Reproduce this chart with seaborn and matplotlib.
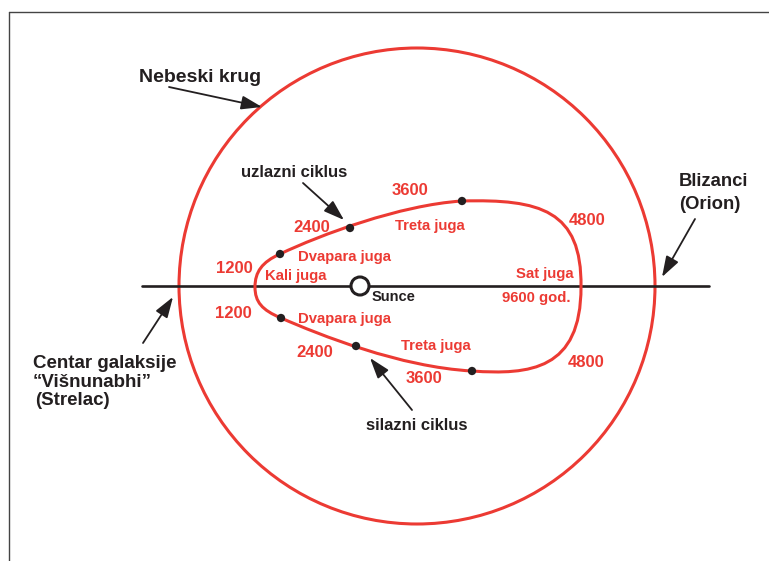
import numpy as np
import pandas as pd
import matplotlib
matplotlib.use("Agg")
import matplotlib.pyplot as plt
import seaborn as sns
from matplotlib.patches import Circle, PathPatch
from matplotlib.path import Path

# colours
RED = "#EC3A33"
BLACK = "#231F20"

# dots on the loop (year marks)
dot_x = [280, 350, 462, 281, 356, 472]
dot_y = [254, 228, 201, 318, 346, 371]

# red labels on the loop
red_labels = ["3600", "2400", "Treta juga", "Dvapara juga", "1200", "Kali juga",
              "1200", "Dvapara juga", "2400", "Treta juga", "3600",
              "4800", "4800", "Sat juga", "9600 god."]
red_x = [392, 293, 395, 298, 216, 265, 215, 298, 296, 401, 406, 569, 568, 516, 502]
red_y = [195, 232, 230, 261, 273, 280, 318, 323, 357, 350, 383, 225, 367, 278, 302]

# black labels
black_labels = ["Nebeski krug", "uzlazni ciklus", "silazni ciklus", "Sunce",
                "Blizanci", "(Orion)", "Centar galaksije", "\u201cVišnunabhi\u201d", "(Strelac)"]
black_x = [139, 241, 366, 372, 679, 679, 33, 33, 35]
black_y = [82, 177, 430, 301, 186, 209, 368, 387, 405]

# arrows: start -> tip
arrow_from = [(169, 87), (303, 183), (412, 410), (143, 343), (695, 219)]
arrow_to = [(262, 107), (344, 220), (370, 358), (173, 297), (662, 277)]

# horizon line ends
horizon_x = [142, 709]
horizon_y = [286, 286]

sns.set_theme(style="white")
plt.rcParams['font.family'] = ['Liberation Sans', 'DejaVu Sans']

fig = plt.figure(figsize=(7.69, 5.61), dpi=100)
ax = fig.add_axes([0, 0, 1, 1])
ax.set_xlim(0, 769)
ax.set_ylim(561, 0)
ax.axis("off")

# frame (top and left edges only visible)
ax.plot([9, 769], [12, 12], color="#444444", lw=1.0)
ax.plot([9, 9], [12, 561], color="#444444", lw=1.0)

# celestial circle
ax.add_patch(Circle((417, 286), 238, fill=False, ec=RED, lw=2.2, zorder=2))

# horizon line
hz = pd.DataFrame({"x": horizon_x, "y": horizon_y})
sns.lineplot(data=hz, x="x", y="y", color=BLACK, lw=1.9, ax=ax, zorder=3)

# loop path (bezier control points)
verts = [(462, 201),
         (540, 199), (582, 210), (581, 287),
         (581, 370), (530, 375), (472, 371),
         (400, 367), (320, 335), (281, 318),
         (262, 310), (255, 302), (255, 287),
         (255, 272), (262, 262), (280, 254),
         (320, 235), (400, 205), (462, 201)]
codes = [Path.MOVETO] + [Path.CURVE4] * 18
ax.add_patch(PathPatch(Path(verts, codes), fill=False, ec=RED, lw=2.2, zorder=4))

# dots
dots = pd.DataFrame({"x": dot_x, "y": dot_y})
sns.scatterplot(data=dots, x="x", y="y", color=BLACK, s=36, edgecolor="none", ax=ax, zorder=5)

# sun
ax.add_patch(Circle((360, 286), 9, fc="white", ec=BLACK, lw=2.2, zorder=6))

ax.set_xlim(0, 769)
ax.set_ylim(561, 0)
ax.set_xlabel("")
ax.set_ylabel("")

for t, x, y in zip(red_labels, red_x, red_y):
    size = 12 if t[0].isdigit() and "god" not in t else 10.7
    ax.text(x, y, t, color=RED, fontsize=size, fontweight="bold", ha="left", va="baseline", zorder=7)

black_sizes = [14, 12, 12, 10.5, 13.3, 13.3, 13.5, 13.5, 13.5]
for t, x, y, s in zip(black_labels, black_x, black_y, black_sizes):
    ax.text(x, y, t, color=BLACK, fontsize=s, fontweight="bold", ha="left", va="baseline", zorder=7)

for a, b in zip(arrow_from, arrow_to):
    ax.annotate("", xy=b, xytext=a,
                arrowprops=dict(arrowstyle="-|>,head_length=0.9,head_width=0.3",
                                color=BLACK, lw=1.3, shrinkA=0, shrinkB=0,
                                mutation_scale=14),
                zorder=8)

fig.savefig("out.png", dpi=100)
